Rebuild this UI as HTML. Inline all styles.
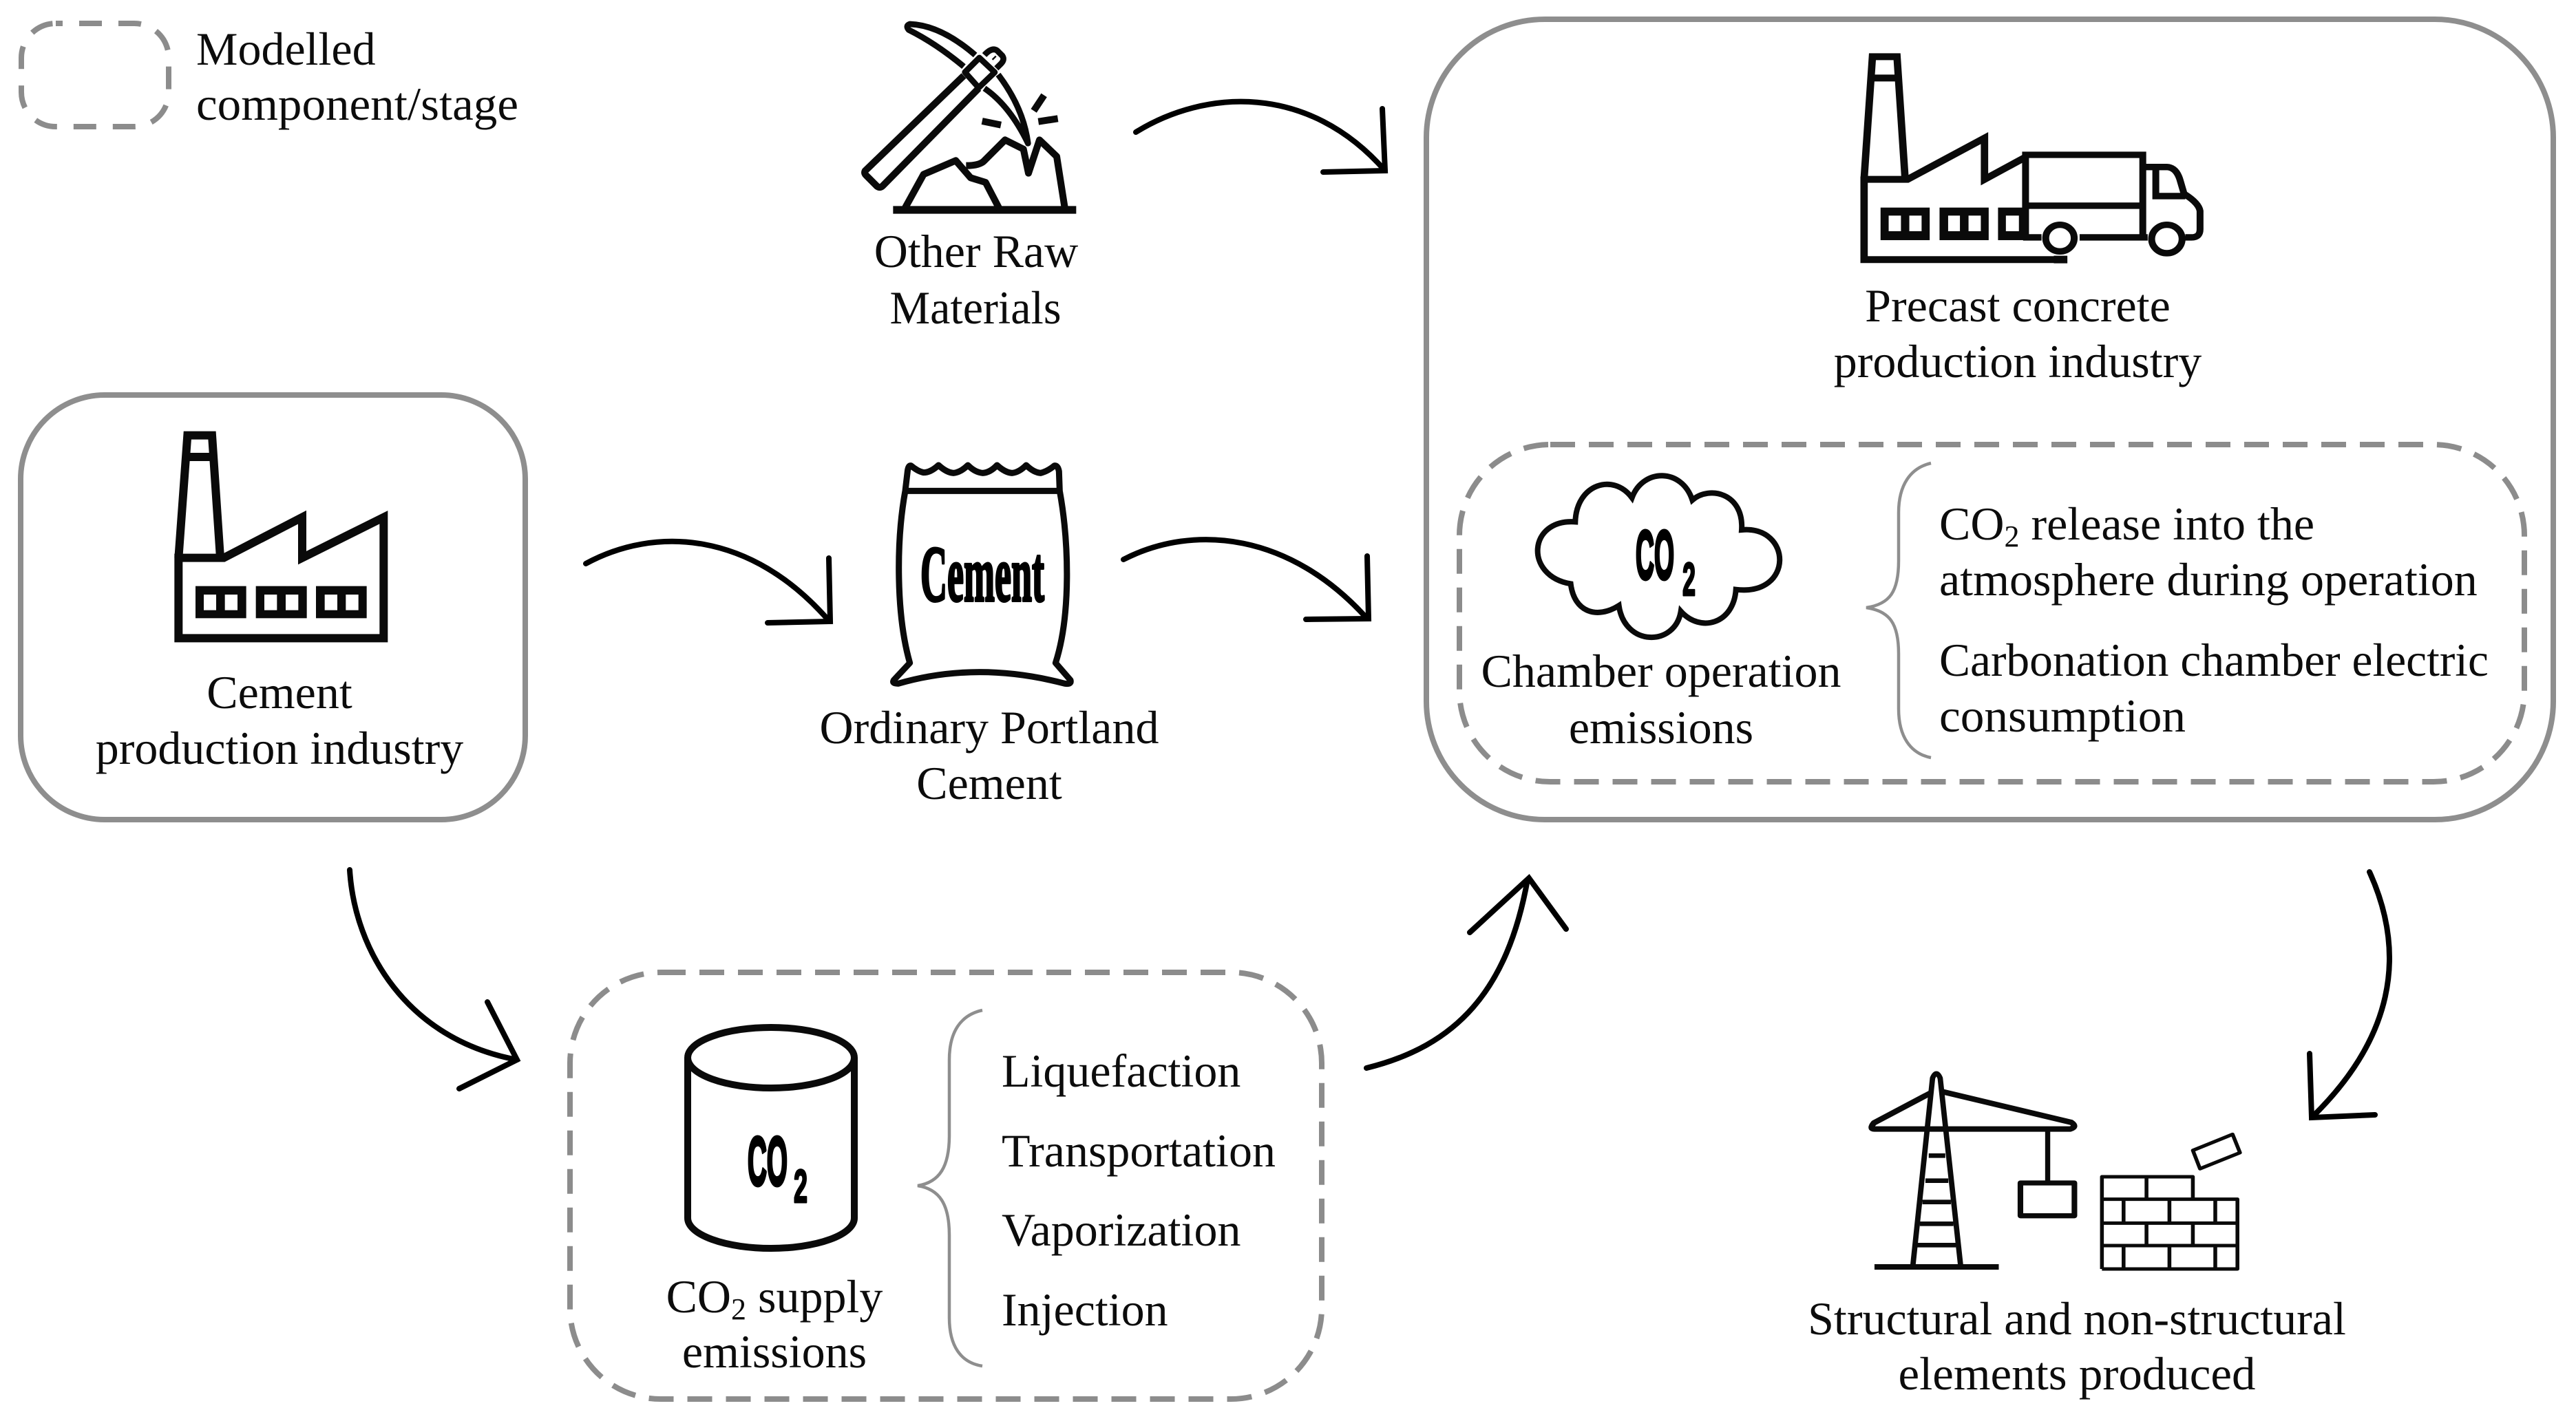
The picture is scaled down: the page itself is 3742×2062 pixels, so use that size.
<!DOCTYPE html>
<html>
<head>
<meta charset="utf-8">
<title>Diagram</title>
<style>
html,body{margin:0;padding:0;background:#fff;width:3742px;height:2062px;overflow:hidden}
svg{display:block}
text{font-family:"Liberation Serif","Times New Roman",serif;font-size:68px;fill:#0c0c0c}
.c{text-anchor:middle}
.h{font-family:"Liberation Sans",Arial,sans-serif;font-weight:bold;fill:#000;stroke:#000;stroke-width:5px;stroke-linejoin:round}
.s{font-family:"Liberation Serif",serif;font-weight:bold;fill:#000;stroke:#000;stroke-width:4px;stroke-linejoin:round;font-size:115px}
.box{fill:none;stroke:#8e8e8e;stroke-width:8}
.dash{fill:none;stroke:#8c8c8c;stroke-width:8;stroke-dasharray:36 20}
.br{fill:none;stroke:#8e8e8e;stroke-width:4.5}
.a{fill:none;stroke:#000;stroke-width:8;stroke-linecap:round;stroke-linejoin:miter}
.i{fill:none;stroke:#0a0a0a}
</style>
</head>
<body>
<svg xmlns="http://www.w3.org/2000/svg" width="3742" height="2062" viewBox="0 0 3742 2062">
<rect width="3742" height="2062" fill="#fff"/>

<!-- Legend -->
<rect class="dash" style="stroke-dasharray:33 24;stroke-dashoffset:23" x="31" y="34" width="214" height="150" rx="50" ry="50"/>
<text x="285" y="94">Modelled</text>
<text x="285" y="174" textLength="468" lengthAdjust="spacingAndGlyphs">component/stage</text>

<!-- Pickaxe -->
<g class="i" transform="translate(1200,0) scale(.33333)" stroke-width="30" stroke-linejoin="round">
  <path d="M600,330 L170,745 Q165,755 175,765 L222,812 Q235,822 247,810 L665,385"/>
  <path d="M605,315 L668,252 L735,315 L665,382 Z" stroke-width="26"/>
  <path d="M690,240 Q722,205 745,220 L768,243 Q780,260 762,278 L742,298" stroke-width="26"/>
  <path d="M730,250 L735,255" stroke-width="22"/>
  <path d="M650,240 Q500,110 365,105 Q345,112 360,130 Q480,190 600,290" stroke-width="26"/>
  <path d="M750,325 Q860,470 880,625 Q800,460 690,385" stroke-width="26"/>
  <path d="M905,483 L950,415 M925,530 L1010,517 M680,528 L762,545"/>
  <path d="M292,915 H1090" stroke-width="34"/>
  <path d="M345,905 L425,760 L565,700 L630,775 L695,795 L755,910"/>
  <path d="M610,722 Q670,722 690,700 L780,610 L860,650 L882,755 L930,610 L1005,682 L1040,905"/>
</g>
<text class="c" x="1418" y="388">Other Raw</text>
<text class="c" x="1417" y="470" textLength="249" lengthAdjust="spacingAndGlyphs">Materials</text>

<!-- Cement box -->
<rect class="box" x="30" y="574" width="733" height="617" rx="122" ry="122"/>
<g class="i" transform="translate(240,620) scale(.33333)" stroke-width="36" stroke-linejoin="miter">
  <path d="M58,572 L97,38 H204 L240,572"/>
  <path d="M90,132 H212"/>
  <path d="M58,572 H255 L597,395 V572 L952,395 V922 H58 Z"/>
  <g fill="#0a0a0a" stroke="none">
    <rect x="132" y="695" width="221" height="140"/>
    <rect x="395" y="695" width="222" height="140"/>
    <rect x="657" y="695" width="221" height="140"/>
  </g>
  <g fill="#fff" stroke="none">
    <rect x="168" y="732" width="54" height="68"/><rect x="260" y="732" width="55" height="68"/>
    <rect x="432" y="732" width="55" height="68"/><rect x="525" y="732" width="55" height="68"/>
    <rect x="695" y="732" width="55" height="68"/><rect x="787" y="732" width="55" height="68"/>
  </g>
</g>
<text class="c" x="406" y="1029">Cement</text>
<text class="c" x="406" y="1110">production industry</text>

<!-- Arrows -->
<g class="a">
  <path d="M1650,192 C1750,130 1900,120 2012,248"/>
  <path d="M2008,158 L2012,248 L1922,250"/>
  <path d="M851,819 C950,765 1090,770 1205,903"/>
  <path d="M1204,811 L1206,903 L1115,905"/>
  <path d="M1632,813 C1735,760 1875,775 1986,899"/>
  <path d="M1986,808 L1988,899 L1897,900"/>
  <path d="M508,1264 C515,1380 590,1510 751,1540"/>
  <path d="M708,1456 L751,1540 L667,1582"/>
  <path d="M1985,1552 C2115,1520 2190,1440 2219,1278"/>
  <path d="M2135,1355 L2221,1276 L2275,1350"/>
  <path d="M3442,1267 C3498,1390 3474,1510 3360,1622"/>
  <path d="M3355,1531 L3358,1624 L3450,1620"/>
</g>

<!-- Cement bag -->
<g class="i" transform="translate(1280,660) scale(.33333)" stroke-width="27" stroke-linejoin="round">
  <path d="M130,50 Q160,75 185,80 Q215,80 250,48 Q285,80 315,82 Q345,80 378,48 Q410,80 443,82 Q475,80 505,48 Q540,80 570,82 Q600,80 632,48 Q665,80 695,82 Q725,75 755,50 Q770,48 775,75 L778,160 C818,380 828,700 760,910 L825,985 Q830,1005 800,1000 Q420,900 75,1000 Q45,1000 55,985 L125,910 C65,700 65,380 105,160 L115,75 Q118,48 130,50 Z"/>
  <path d="M105,160 H778"/>
</g>
<text class="s" x="1337" y="873" textLength="180" lengthAdjust="spacingAndGlyphs">Cement</text>
<text class="c" x="1437" y="1080">Ordinary Portland</text>
<text class="c" x="1437" y="1161">Cement</text>

<!-- CO2 supply -->
<rect class="dash" x="828" y="1413" width="1092" height="620" rx="132" ry="132"/>
<g class="i" stroke-width="10">
  <ellipse cx="1120" cy="1537" rx="121" ry="44"/>
  <path d="M999,1537 V1770 A121,44 0 0 0 1241,1770 V1537"/>
</g>
<text class="h" style="font-size:100px" x="1086" y="1722" textLength="58" lengthAdjust="spacingAndGlyphs">CO</text>
<text class="h" style="font-size:68px;stroke-width:3px" x="1153" y="1747" textLength="20" lengthAdjust="spacingAndGlyphs">2</text>
<path class="br" d="M1427,1468 C1395,1475 1379,1500 1379,1540 V1650 C1379,1695 1365,1718 1333,1723 C1365,1728 1379,1750 1379,1795 V1915 C1379,1955 1395,1980 1427,1985"/>
<text x="1455" y="1579">Liquefaction</text>
<text x="1455" y="1695">Transportation</text>
<text x="1455" y="1810">Vaporization</text>
<text x="1455" y="1926">Injection</text>
<text class="c" x="1125" y="1907">CO<tspan font-size="44" dy="10">2</tspan><tspan dy="-10"> supply</tspan></text>
<text class="c" x="1125" y="1987">emissions</text>

<!-- Precast big box -->
<rect class="box" x="2072" y="28" width="1637" height="1163" rx="172" ry="172"/>
<g class="i" transform="translate(2680,50) scale(.357,.3333)">
  <g stroke-width="30" stroke-linejoin="miter">
    <path d="M78,630 L112,97 H212 L245,630"/>
    <path d="M105,190 H218"/>
    <path d="M78,632 H255 L568,452 V632 L735,535"/>
    <path d="M78,620 V982 H905"/>
  </g>
  <g fill="#0a0a0a" stroke="none">
    <rect x="145" y="755" width="200" height="142"/>
    <rect x="385" y="755" width="200" height="142"/>
    <rect x="623" y="755" width="122" height="142"/>
  </g>
  <g fill="#fff" stroke="none">
    <rect x="178" y="790" width="50" height="68"/><rect x="262" y="790" width="50" height="68"/>
    <rect x="420" y="790" width="48" height="68"/><rect x="503" y="790" width="50" height="68"/>
    <rect x="655" y="790" width="53" height="68"/>
  </g>
  <g stroke-width="28">
    <path d="M735,885 V525 H1212 V885"/>
    <path d="M735,747 H1212"/>
    <path d="M725,885 H800 M955,885 H1232"/>
    <path d="M1212,578 H1310 Q1350,580 1365,640 L1380,695 Q1440,735 1445,770 V850 Q1445,885 1410,885 H1385"/>
    <path d="M1265,585 V705 H1385"/>
    <circle cx="875" cy="888" r="58" fill="#fff"/>
    <circle cx="1310" cy="892" r="62" fill="#fff"/>
  </g>
  <path d="M850,965 H905 V998 H850 Z" fill="#0a0a0a" stroke="none"/>
</g>
<text class="c" x="2931" y="467">Precast concrete</text>
<text class="c" x="2931" y="548">production industry</text>

<!-- Chamber dashed box -->
<rect class="dash" x="2120" y="646" width="1547" height="490" rx="132" ry="132"/>
<path class="i" transform="translate(2210,680) scale(.33333)" stroke-width="24" stroke-linejoin="miter" d="M235,235 C240,70 400,20 482,130 C530,0 700,0 745,140 C820,75 970,110 960,270 C1180,250 1190,560 935,530 C925,680 780,720 695,625 C670,780 450,780 425,600 C330,660 230,630 215,505 C10,470 30,220 235,235 Z"/>
<text class="h" style="font-size:100px" x="2376" y="841" textLength="56" lengthAdjust="spacingAndGlyphs">CO</text>
<text class="h" style="font-size:68px;stroke-width:3px" x="2444" y="865" textLength="19" lengthAdjust="spacingAndGlyphs">2</text>
<text class="c" x="2413" y="998">Chamber operation</text>
<text class="c" x="2413" y="1080">emissions</text>
<path class="br" d="M2805,673 C2775,680 2758,705 2758,745 V815 C2758,860 2745,878 2711,883 C2745,888 2758,906 2758,950 V1030 C2758,1070 2775,1095 2805,1101"/>
<text x="2817" y="784">CO<tspan font-size="44" dy="10">2</tspan><tspan dy="-10"> release into the</tspan></text>
<text x="2817" y="865">atmosphere during operation</text>
<text x="2817" y="982" textLength="798" lengthAdjust="spacingAndGlyphs">Carbonation chamber electric</text>
<text x="2817" y="1063" textLength="358" lengthAdjust="spacingAndGlyphs">consumption</text>

<!-- Crane -->
<g class="i" transform="translate(2700,1550) scale(.37,.33333)" stroke-linejoin="round">
  <path d="M213,865 L290,50 Q305,10 320,50 L400,865" stroke-width="21"/>
  <path d="M62,873 H550" stroke-width="24"/>
  <path d="M285,113 L60,245 Q40,272 62,272 H830 Q860,262 835,243 L325,108" stroke-width="24"/>
  <path d="M275,388 H340 M262,497 H352 M250,590 H362 M240,685 H372 M230,778 H382" stroke-width="20"/>
  <path d="M742,280 V510" stroke-width="20"/>
  <rect x="635" y="507" width="212" height="143" stroke-width="22"/>
  <g stroke-width="15">
    <path d="M955,882 V480 H1312 V578 M955,578 H1487 V882 H955"/>
    <path d="M955,682 H1487 M955,780 H1487"/>
    <path d="M1130,480 V578 M1040,578 V682 M1220,578 V682 M1400,578 V682 M1130,682 V780 M1312,682 V780 M1040,780 V882 M1220,780 V882 M1400,780 V882"/>
    <path d="M1312,365 L1468,295 L1497,375 L1340,445 Z"/>
  </g>
</g>
<text class="c" x="3017" y="1939">Structural and non-structural</text>
<text class="c" x="3017" y="2019" textLength="519" lengthAdjust="spacingAndGlyphs">elements produced</text>
</svg>
</body>
</html>
